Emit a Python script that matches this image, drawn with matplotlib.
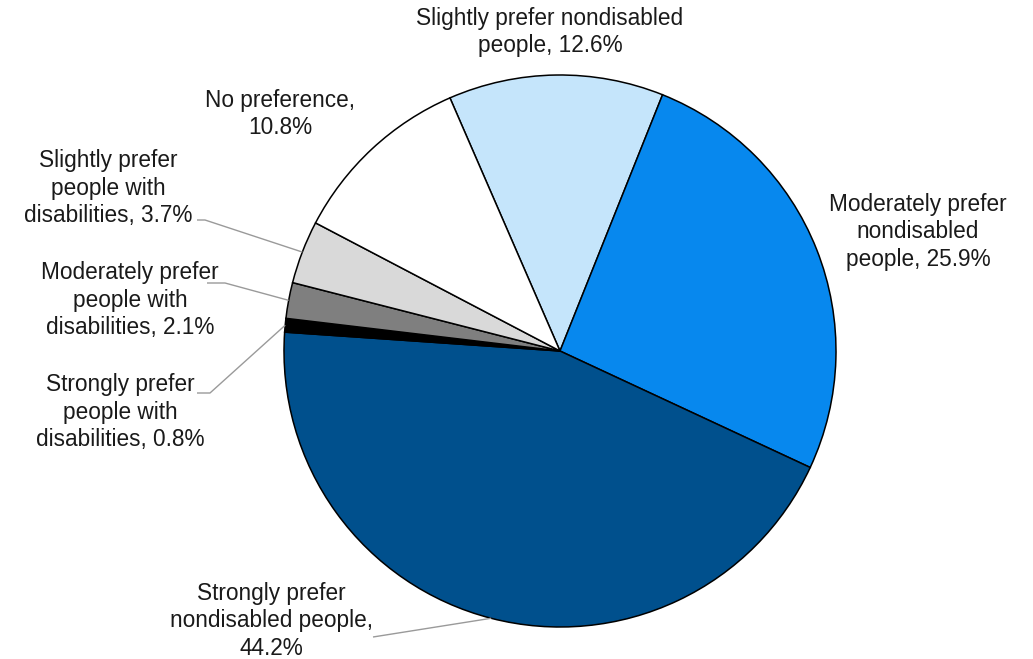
import numpy as np
import matplotlib.pyplot as plt

plt.rcParams['font.family'] = ['Liberation Sans', 'DejaVu Sans']

# data, clockwise from the top-left edge of the light-blue slice
labels = [
    "Slightly prefer nondisabled\npeople, 12.6%",
    "Moderately prefer\nnondisabled\npeople, 25.9%",
    "Strongly prefer\nnondisabled people,\n44.2%",
    "Strongly prefer\npeople with\ndisabilities, 0.8%",
    "Moderately prefer\npeople with\ndisabilities, 2.1%",
    "Slightly prefer\npeople with\ndisabilities, 3.7%",
    "No preference,\n10.8%",
]
values = [12.6, 25.9, 44.2, 0.8, 2.1, 3.7, 10.8]
colors = ["#C5E5FB", "#0788EE", "#00508D", "#000000", "#7F7F7F", "#D9D9D9", "#FFFFFF"]

W, H = 1033, 659
fig = plt.figure(figsize=(W / 100, H / 100), dpi=100)
ax = fig.add_axes([0, 0, 1, 1])
ax.axis('off')

cx, cy, R = 560, H - 351, 276
wedges, _ = ax.pie(values, colors=colors, startangle=113.5, counterclock=False,
                   center=(cx, cy), radius=R, normalize=True,
                   wedgeprops=dict(edgecolor='black', linewidth=1.1))
ax.set_xlim(0, W)
ax.set_ylim(0, H)
ax.set_aspect('equal')

# label layout: text centre (pixels from top-left), optional leader-line elbow
text_pos = [(550, 32), (918, 232), (271, 621), (120, 412), (130, 300), (108, 188), (280, 114)]
elbows = [None, None, (373, 637), (210, 393), (225, 283), (205, 220), None]
text_ends = [None, None, (373, 637), (197, 393), (207, 283), (197, 220), None]

for w, lab, (tx, ty), elb, tend in zip(wedges, labels, text_pos, elbows, text_ends):
    ax.text(tx, H - ty, lab, ha='center', va='center', fontsize=16.3,
            color='#1A1A1A', linespacing=1.24)
    if elb is None:
        continue
    ang = np.deg2rad((w.theta1 + w.theta2) / 2)
    px = cx + R * np.cos(ang)
    py = cy + R * np.sin(ang)
    ax.plot([tend[0], elb[0], px], [H - tend[1], H - elb[1], py],
            color='#9A9A9A', linewidth=1.0, solid_capstyle='butt')

fig.savefig('out.png', dpi=100)
